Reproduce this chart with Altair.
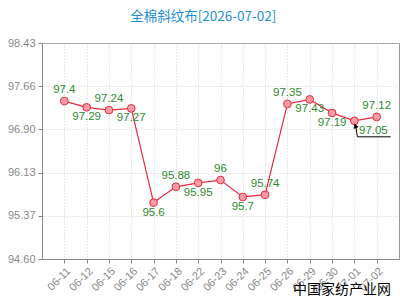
import altair as alt
import pandas as pd

dates = ["06-11", "06-12", "06-15", "06-16", "06-17", "06-18", "06-22", "06-23",
         "06-24", "06-25", "06-26", "06-29", "06-30", "07-01", "07-02"]
values = [97.4, 97.29, 97.24, 97.27, 95.6, 95.88, 95.95, 96.0, 95.7, 95.74,
          97.35, 97.43, 97.19, 97.05, 97.12]
labels = ["97.4", "97.29", "97.24", "97.27", "95.6", "95.88", "95.95", "96", "95.7",
          "95.74", "97.35", "97.43", "97.19", "97.05", "97.12"]
# +1 label above point, -1 label below point, 0 = callout
positions = [1, -1, 1, -1, -1, 1, -1, 1, -1, 1, 1, -1, -1, 0, 1]
y_ticks = [94.60, 95.37, 96.13, 96.90, 97.66, 98.43]

df = pd.DataFrame({"date": dates, "value": values, "label": labels, "pos": positions})

FONT = "Liberation Sans"
x_enc = alt.X("date:N", sort=dates,
              scale=alt.Scale(type="point", padding=1),
              axis=alt.Axis(title=None, labelAngle=315, labelColor="#888",
                            labelFont=FONT, labelFontSize=11, domainColor="#888",
                            tickColor="#888", tickSize=4, grid=True,
                            gridColor="#ccc", gridDash=[1, 2]))
y_enc = alt.Y("value:Q",
              scale=alt.Scale(domain=[94.60, 98.43], nice=False, zero=False),
              axis=alt.Axis(title=None, values=y_ticks, format=".2f",
                            labelColor="#888", labelFont=FONT, labelFontSize=11,
                            labelPadding=3, domainColor="#888", tickColor="#888",
                            tickSize=4, gridColor="#ccc", gridDash=[1, 2]))

base = alt.Chart(df)

line = base.mark_line(color="#e8283c", strokeWidth=1.2).encode(x=x_enc, y=y_enc)
pts = base.mark_point(shape="circle", size=60, filled=True, fill="#ff9aa6",
                      stroke="#e0303c", strokeWidth=1, opacity=1).encode(
    x=alt.X("date:N", sort=dates), y="value:Q")

txt_style = dict(font=FONT, fontSize=11.5, color="#2f8a2f", baseline="middle")
above = base.transform_filter("datum.pos == 1").mark_text(dy=-11, **txt_style).encode(
    x=alt.X("date:N", sort=dates), y="value:Q", text="label:N")
below = base.transform_filter("datum.pos == -1").mark_text(dy=10, **txt_style).encode(
    x=alt.X("date:N", sort=dates), y="value:Q", text="label:N")
callout = base.transform_filter("datum.pos == 0").mark_text(dx=19, dy=10, **txt_style).encode(
    x=alt.X("date:N", sort=dates), y="value:Q", text="label:N")

diag = base.transform_filter("datum.pos == 0").mark_rule(
    color="#000", strokeWidth=1, xOffset=1, yOffset=3, x2Offset=3, y2Offset=16).encode(
    x=alt.X("date:N", sort=dates), y="value:Q", x2="date:N", y2="value:Q")
under = base.transform_filter("datum.pos == 0").transform_calculate(
    nxt="'07-02'").mark_rule(
    color="#000", strokeWidth=1, xOffset=3, x2Offset=14, yOffset=16).encode(
    x=alt.X("date:N", sort=dates), x2="nxt:N", y="value:Q")
arrow = base.transform_filter("datum.pos == 0").mark_point(
    shape="triangle-up", size=30, filled=True, color="#000", opacity=1,
    xOffset=1, yOffset=5, angle=340).encode(
    x=alt.X("date:N", sort=dates), y="value:Q")

wm = alt.Chart(pd.DataFrame({"t": ["中国家纺产业网"]})).mark_text(
    font="Noto Sans CJK SC", fontSize=14, color="#000", align="right",
    baseline="middle").encode(x=alt.value(349), y=alt.value(247), text="t:N")

chart = alt.layer(line, pts, above, below, callout, diag, under, arrow, wm).properties(
    width=357, height=216,
    title=alt.TitleParams("全棉斜纹布[2026-07-02]", font="Noto Sans CJK SC",
                          fontSize=13.5, fontWeight="normal", color="#1e8fd5",
                          anchor="middle", frame="bounds", offset=14),
    autosize=alt.AutoSizeParams(type="none"),
    padding={"left": 42, "top": 43, "right": 1, "bottom": 41},
).configure_view(stroke="#999", strokeWidth=1)

chart.save("out.html", embed_options={"renderer": "svg", "actions": False})
